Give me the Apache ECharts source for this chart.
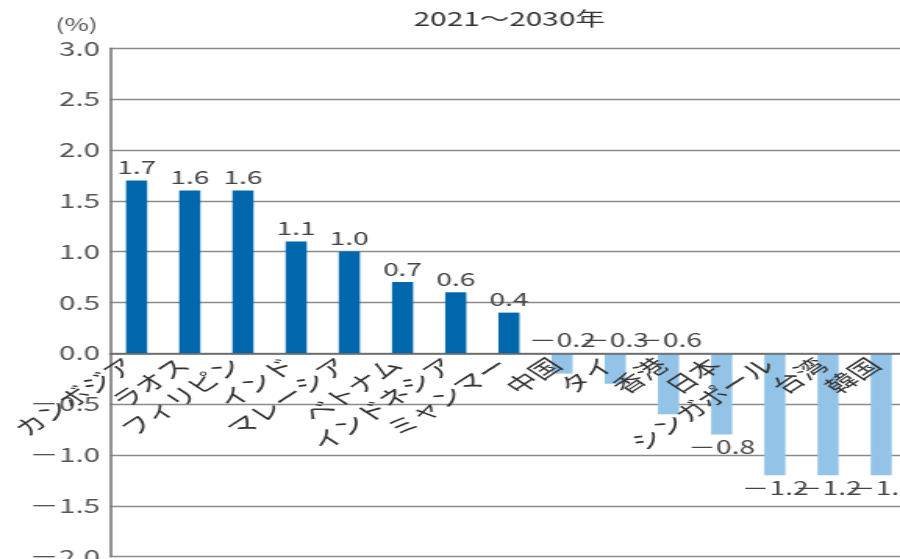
<!DOCTYPE html>
<html>
<head>
<meta charset="utf-8">
<script src="https://cdn.jsdelivr.net/npm/echarts@6/dist/echarts.min.js"></script>
<style>
  html, body { margin: 0; padding: 0; background: #fff; overflow: hidden; }
  /* the chart is laid out narrow and widened horizontally */
  #chart { width: 576px; height: 559px; transform: scaleX(1.5625); transform-origin: 0 0; }
</style>
</head>
<body>
<div id="chart"></div>
<script>
const countries = ['カンボジア', 'ラオス', 'フィリピン', 'インド', 'マレーシア', 'ベトナム', 'インドネシア', 'ミャンマー',
                   '中国', 'タイ', '香港', '日本', 'シンガポール', '台湾', '韓国'];
const growth = [1.7, 1.6, 1.6, 1.1, 1.0, 0.7, 0.6, 0.4, -0.2, -0.3, -0.6, -0.8, -1.2, -1.2, -1.2];
const yTicks = { min: -2.0, max: 3.0, step: 0.5 };
const titleText = '2021～2030年';
const unitText = '(%)';

const FONT = '"Noto Sans CJK JP", "Noto Sans", sans-serif';
const fmt = v => (v < 0 ? '－' : '') + Math.abs(v).toFixed(1);

const GRID_TOP = 48.3, GRID_BOTTOM = 2.4, CHART_H = 559;
// pixel distance from the bottom of the plot up to the zero line
const plotH = CHART_H - GRID_TOP - GRID_BOTTOM;
const zeroOffset = plotH * (0 - yTicks.min) / (yTicks.max - yTicks.min);

const chart = echarts.init(document.getElementById('chart'));

const barData = growth.map(v => ({
  value: v,
  itemStyle: { color: v >= 0 ? '#0067ad' : '#93c4e8' },
  label: { position: (v >= 0 || v > -0.7) ? 'top' : 'bottom' }
}));

chart.setOption({
  animation: false,
  backgroundColor: '#fff',
  graphic: [
    { type: 'text', x: 326, y: 19, style: { text: titleText, font: '19px ' + FONT, fill: '#333', textAlign: 'center', textVerticalAlign: 'middle' } },
    { type: 'text', x: 49, y: 25, style: { text: unitText, font: '17px ' + FONT, fill: '#555', textAlign: 'center', textVerticalAlign: 'middle' } }
  ],
  grid: { left: 70.4, right: -5, top: GRID_TOP, bottom: GRID_BOTTOM, containLabel: false, outerBoundsMode: 'none' },
  xAxis: {
    type: 'category',
    data: countries,
    position: 'bottom',
    offset: -zeroOffset,
    z: 5,
    axisLine: { onZero: false, lineStyle: { color: '#666', width: 1.5 } },
    axisTick: { inside: true, length: 4, lineStyle: { color: '#777' } },
    axisLabel: {
      rotate: 45, margin: 4, padding: [0, 6, 0, 0], interval: 0,
      fontFamily: FONT, fontSize: 20, color: '#333'
    },
    splitLine: { show: false }
  },
  yAxis: {
    type: 'value',
    min: yTicks.min, max: yTicks.max, interval: yTicks.step,
    axisLine: { show: true, lineStyle: { color: '#777', width: 1.6 } },
    axisTick: { show: false },
    axisLabel: { formatter: fmt, margin: 6.4, fontFamily: FONT, fontSize: 19, color: '#555' },
    splitLine: { lineStyle: { color: '#8a8a8a', width: 1.3 } }
  },
  series: [{
    type: 'bar',
    data: barData,
    barWidth: 13.5,
    label: {
      show: true, distance: 4, formatter: p => fmt(p.value),
      fontFamily: FONT, fontSize: 18, color: '#444'
    }
  }]
});
</script>
</body>
</html>
